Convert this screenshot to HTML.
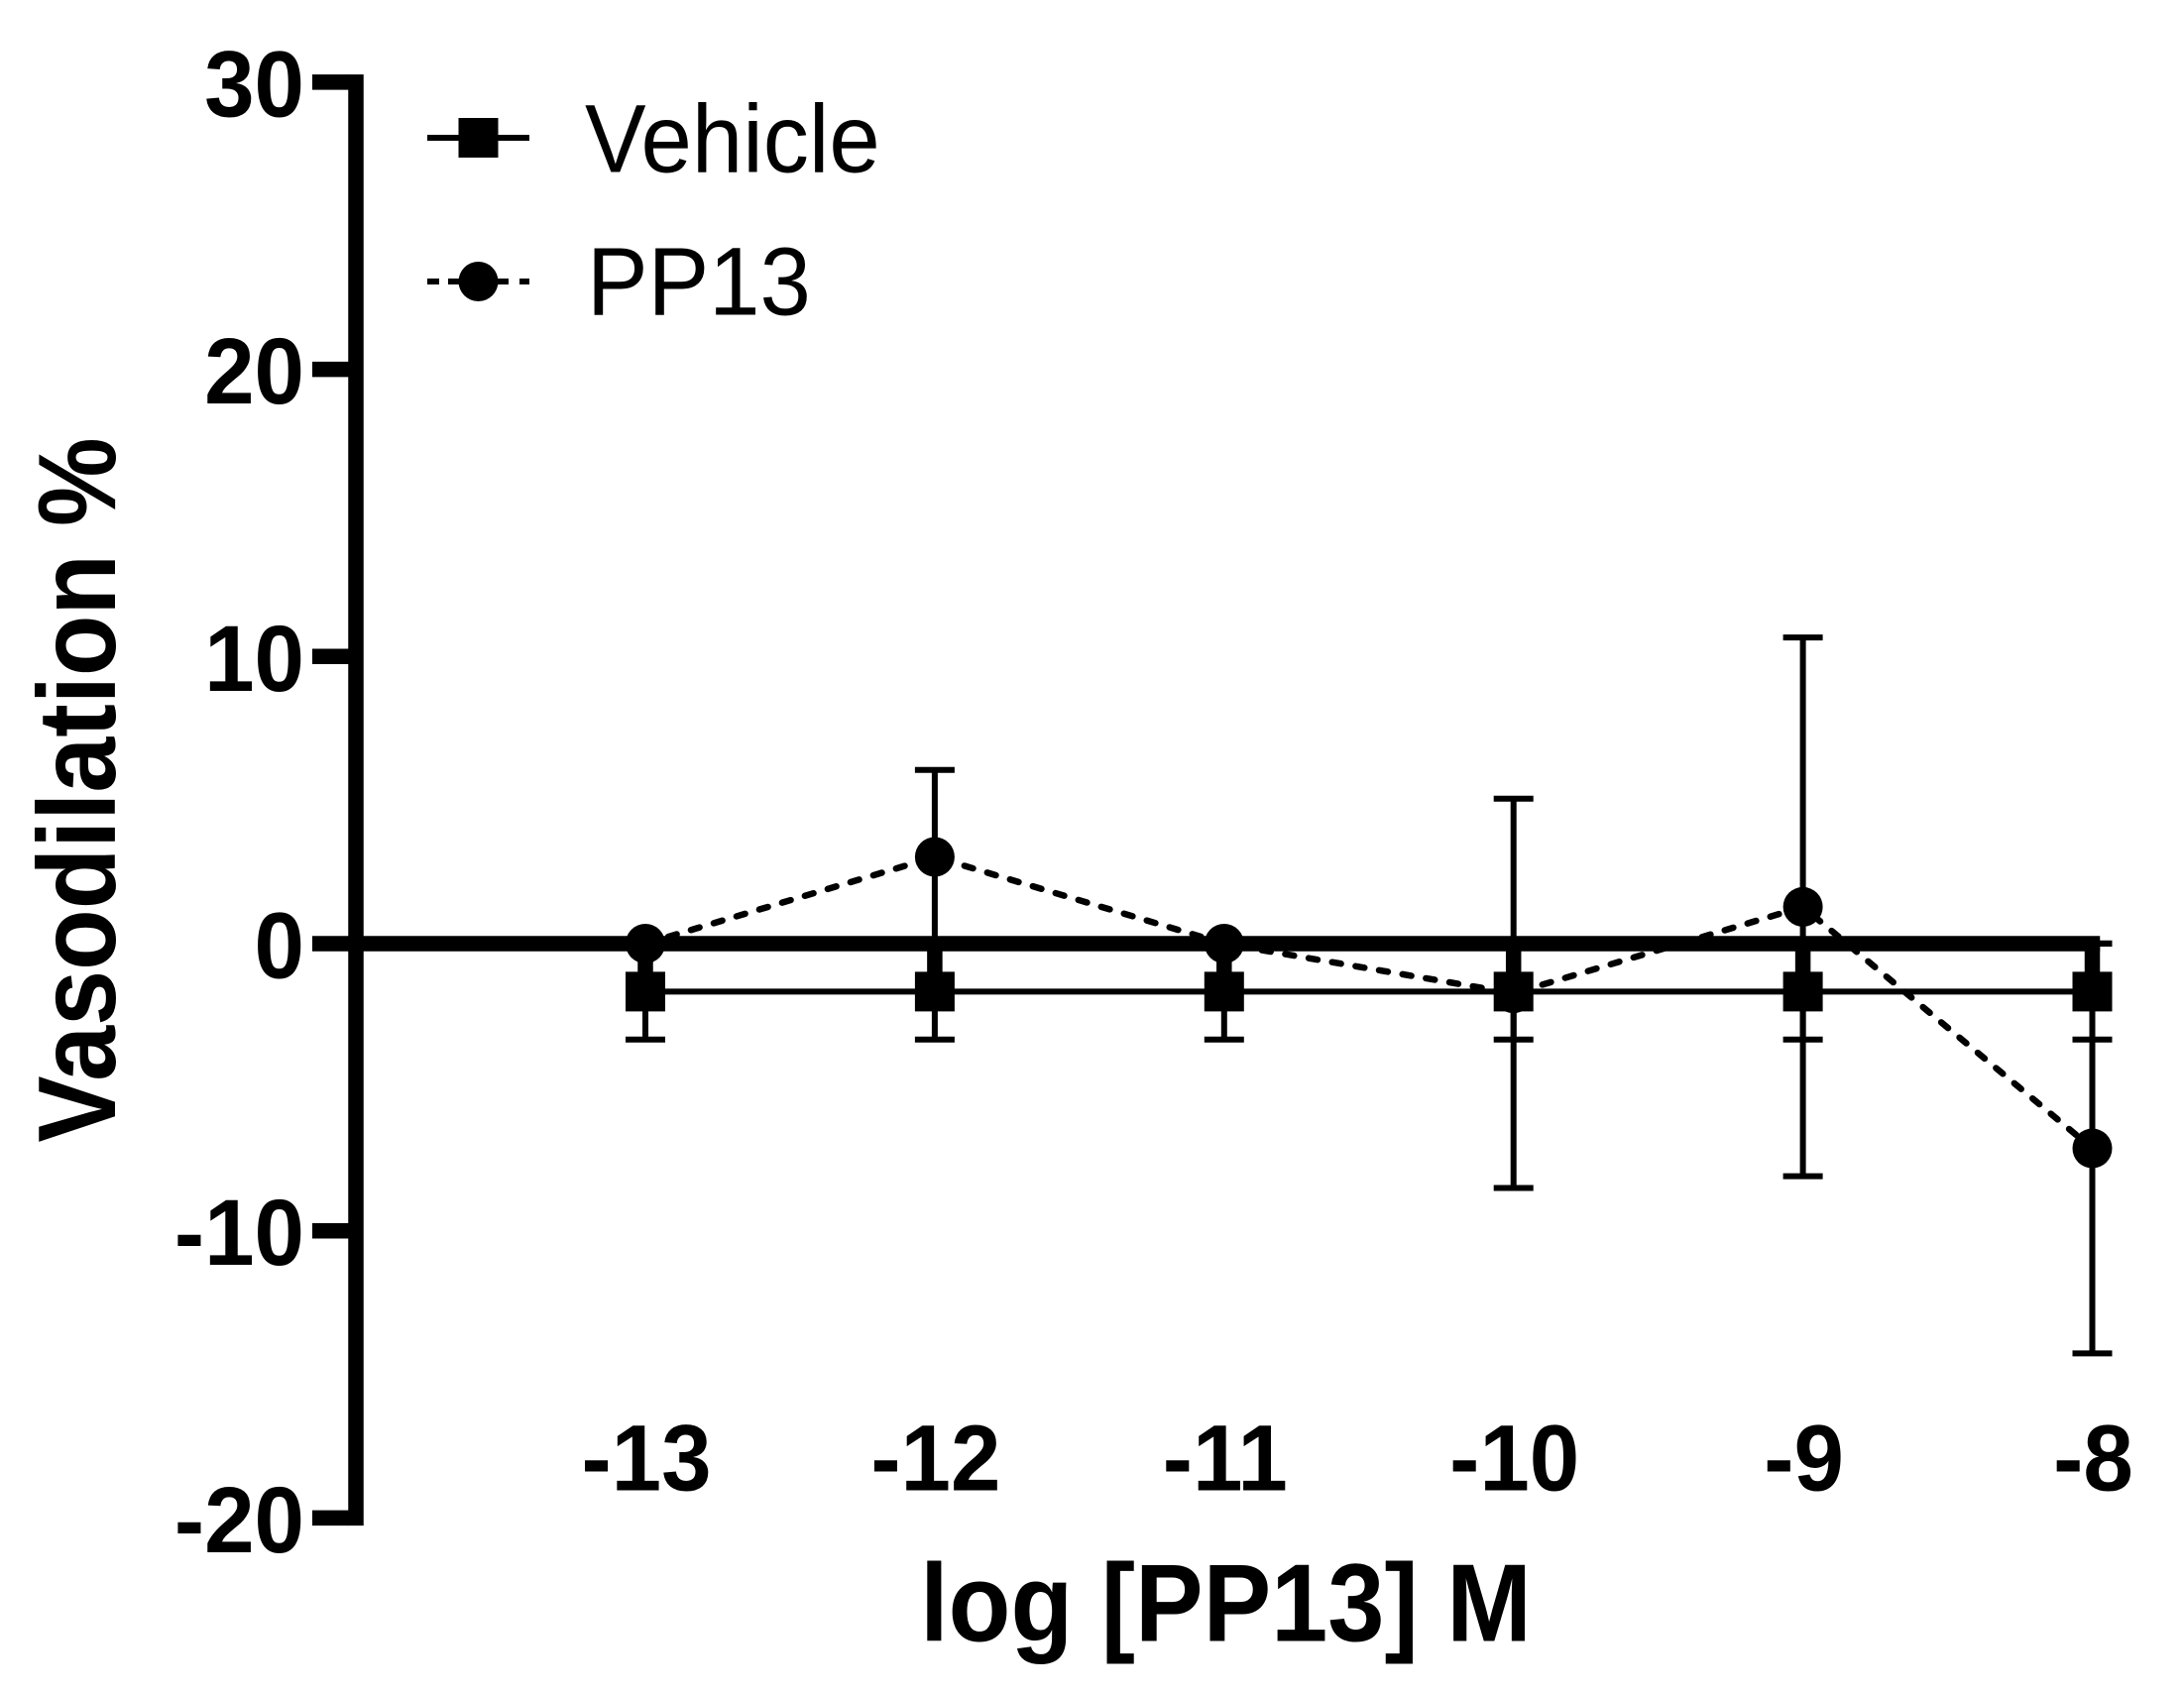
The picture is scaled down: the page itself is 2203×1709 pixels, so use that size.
<!DOCTYPE html>
<html lang="en">
<head>
<meta charset="utf-8">
<title>Vasodilation vs log [PP13] M</title>
<style>
html,body{margin:0;padding:0;background:#fff;}
svg{display:block;}
text{font-family:"Liberation Sans",Arial,sans-serif;fill:#000;}
</style>
</head>
<body>
<svg id="chart" xmlns="http://www.w3.org/2000/svg" width="2203" height="1709" viewBox="0 0 2203 1709">
<rect x="0" y="0" width="2203" height="1709" fill="#fff"/>
</svg>
<script>
const xCategories = [-13, -12, -11, -10, -9, -8];
const yTickValues = [30, 20, 10, 0, -10, -20];
const vehicleMean = [-1.67, -1.67, -1.67, -1.67, -1.67, -1.67];
const vehicleError = [1.67, 1.67, 1.67, 1.67, 1.67, 1.67];
const pp13Mean = [0, 3.02, 0, -1.73, 1.28, -7.13];
const pp13Error = [0, 3.03, 0, 6.78, 9.38, 7.14];
const seriesNames = ['Vehicle', 'PP13'];
const xAxisTitle = 'log [PP13] M';
const yAxisTitle = 'Vasodilation %';

const svgNS = 'http://www.w3.org/2000/svg';
const chart = document.getElementById('chart');

function xScale(v) { return 651 + (v + 13) * 291.9; }
function yScale(v) { return 952 - 28.97 * v; }

function drawLine(name, x1, y1, x2, y2, width) {
  const el = document.createElementNS(svgNS, 'line');
  
  
  el.setAttribute('x1', x1);
  el.setAttribute('y1', y1);
  el.setAttribute('x2', x2);
  el.setAttribute('y2', y2);
  el.setAttribute('stroke', '#000');
  el.setAttribute('stroke-width', width);
  chart.appendChild(el);
  return el;
}

function drawSquare(name, cx, cy) {
  const el = document.createElementNS(svgNS, 'rect');
  
  
  el.setAttribute('x', cx - 20);
  el.setAttribute('y', cy - 20);
  el.setAttribute('width', 40);
  el.setAttribute('height', 40);
  el.setAttribute('fill', '#000');
  chart.appendChild(el);
}

function drawCircle(name, cx, cy) {
  const el = document.createElementNS(svgNS, 'circle');
  
  
  el.setAttribute('cx', cx);
  el.setAttribute('cy', cy);
  el.setAttribute('r', 20);
  el.setAttribute('fill', '#000');
  chart.appendChild(el);
}

function drawText(name, str, x, y, size, weight, anchor, sx, rotate) {
  const el = document.createElementNS(svgNS, 'text');
  
  
  el.setAttribute('font-size', size);
  el.setAttribute('font-weight', weight);
  el.setAttribute('text-anchor', anchor);
  el.setAttribute('transform', 'translate(' + x + ' ' + y + ')' + (rotate ? ' rotate(' + rotate + ')' : '') + ' scale(' + sx + ' 1)');
  el.textContent = str;
  chart.appendChild(el);
}

function drawErrorBar(prefix, cat, mean, err) {
  const x = xScale(cat);
  const top = yScale(mean + err);
  const bottom = yScale(mean - err);
  drawLine(prefix + '-error-stem-' + Math.abs(cat), x, top, x, bottom, 6);
  drawLine(prefix + '-error-cap-top-' + Math.abs(cat), x - 20, top, x + 20, top, 6);
  drawLine(prefix + '-error-cap-bottom-' + Math.abs(cat), x - 20, bottom, x + 20, bottom, 6);
}

/* axes */
const axisW = 15.5;
drawLine('y-axis-line', 359, yScale(30) - axisW / 2, 359, yScale(-20) + axisW / 2, axisW);
drawLine('x-axis-line', 359, yScale(0), xScale(-8) + axisW / 2, yScale(0), axisW);

yTickValues.forEach(function (v) {
  drawLine('y-tick-' + v, 315, yScale(v), 352, yScale(v), axisW);
  drawText('y-tick-label-' + v, String(v), 307, yScale(v) + 34.5, 94.5, 'bold', 'end', 0.96);
});

xCategories.forEach(function (c) {
  drawLine('x-tick-' + Math.abs(c), xScale(c), yScale(0), xScale(c), yScale(0) + 44, axisW);
  drawText('x-tick-label-' + Math.abs(c), String(c), xScale(c) + 1, 1503.5, 94.5, 'bold', 'middle', 0.96);
});

drawText('x-axis-title', xAxisTitle, 1236.5, 1655.5, 111, 'bold', 'middle', 0.926);
drawText('y-axis-title', yAxisTitle, 116, 797, 111, 'bold', 'middle', 0.908, -90);

/* vehicle series */
xCategories.forEach(function (c, i) {
  drawErrorBar('vehicle', c, vehicleMean[i], vehicleError[i]);
});
xCategories.forEach(function (c, i) {
  if (i > 0) {
    drawLine('vehicle-line-segment-' + i, xScale(xCategories[i - 1]), yScale(vehicleMean[i - 1]), xScale(c), yScale(vehicleMean[i]), 6);
  }
});

/* PP13 series */
xCategories.forEach(function (c, i) {
  drawErrorBar('pp13', c, pp13Mean[i], pp13Error[i]);
});
const pp13Line = document.createElementNS(svgNS, 'polyline');


pp13Line.setAttribute('points', xCategories.map(function (c, i) {
  return xScale(c) + ',' + yScale(pp13Mean[i]);
}).join(' '));
pp13Line.setAttribute('fill', 'none');
pp13Line.setAttribute('stroke', '#000');
pp13Line.setAttribute('stroke-width', 6.5);
pp13Line.setAttribute('stroke-linecap', 'round');
pp13Line.setAttribute('stroke-dasharray', '9 15');
chart.appendChild(pp13Line);

xCategories.forEach(function (c, i) {
  drawSquare('vehicle-point-' + Math.abs(c), xScale(c), yScale(vehicleMean[i]));
});
xCategories.forEach(function (c, i) {
  drawCircle('pp13-point-' + Math.abs(c), xScale(c), yScale(pp13Mean[i]));
});

/* legend */
drawLine('legend-vehicle-line', 431, 139, 534, 139, 6);
drawSquare('legend-vehicle-marker', 482.5, 139);
drawText('legend-vehicle-label', seriesNames[0], 590, 173.5, 97, 'normal', 'start', 0.952);
drawLine('legend-pp13-dash-1', 431, 284, 443, 284, 6);
drawLine('legend-pp13-dash-2', 452, 284, 464, 284, 6);
drawLine('legend-pp13-dash-3', 501, 284, 513, 284, 6);
drawLine('legend-pp13-dash-4', 524, 284, 534, 284, 6);
drawCircle('legend-pp13-marker', 482.5, 284);
drawText('legend-pp13-label', seriesNames[1], 592, 317.5, 97, 'normal', 'start', 0.952);
</script>
</body>
</html>
